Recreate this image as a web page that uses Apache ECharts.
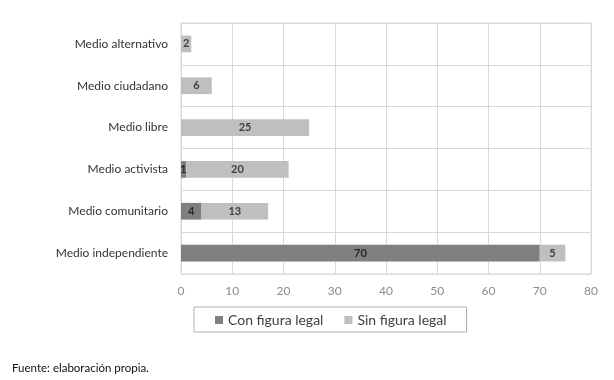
<!DOCTYPE html>
<html>
<head>
<meta charset="utf-8">
<script src="https://cdn.jsdelivr.net/npm/echarts@6/dist/echarts.min.js"></script>
<style>
html,body{margin:0;padding:0;background:#fff;}
#chart{width:614px;height:380px;}
</style>
</head>
<body>
<div id="chart"></div>
<script>
var categories = ["Medio alternativo", "Medio ciudadano", "Medio libre", "Medio activista", "Medio comunitario", "Medio independiente"];
var conFiguraLegal = [0, 0, 0, 1, 4, 70];
var sinFiguraLegal = [2, 6, 25, 20, 13, 5];
var xTicks = [0, 10, 20, 30, 40, 50, 60, 70, 80];
var seriesNames = ["Con figura legal", "Sin figura legal"];
var sourceNote = "Fuente: elaboración propia.";

var FONT = "Lato, 'Open Sans', sans-serif";
var chart = echarts.init(document.getElementById('chart'), null, {renderer: 'canvas'});

function lbl(p) { return p.value ? String(p.value) : ''; }

chart.setOption({
  backgroundColor: '#ffffff',
  animation: false,
  textStyle: {fontFamily: FONT},
  grid: {left: 181, right: 23, top: 23, bottom: 106, containLabel: false,
         show: true, borderColor: '#d9d9d9', borderWidth: 1},
  xAxis: {
    type: 'value',
    min: xTicks[0], max: xTicks[xTicks.length - 1], interval: 10,
    axisLine: {show: false}, axisTick: {show: false},
    splitLine: {show: true, lineStyle: {color: '#d9d9d9', width: 1}},
    axisLabel: {color: '#8c8c8c', fontSize: 12, margin: 11, fontFamily: FONT}
  },
  yAxis: {
    type: 'category',
    data: categories,
    inverse: true,
    axisLine: {show: false}, axisTick: {show: false},
    splitLine: {show: true, lineStyle: {color: '#d9d9d9', width: 1}},
    axisLabel: {color: '#333333', fontSize: 12, margin: 13, fontFamily: FONT}
  },
  legend: {
    data: seriesNames,
    left: 194, top: 307,
    orient: 'horizontal',
    icon: 'rect', itemWidth: 8, itemHeight: 8, itemGap: 21,
    borderColor: '#b0b0b0', borderWidth: 1,
    padding: [6, 20, 5, 21],
    textStyle: {color: '#404040', fontSize: 14, fontFamily: FONT}
  },
  title: {
    text: sourceNote,
    left: 7, top: 357,
    textStyle: {color: '#111', fontSize: 11.5, fontWeight: 'normal', fontFamily: FONT}
  },
  series: [
    {
      name: seriesNames[0], type: 'bar', stack: 'total',
      data: conFiguraLegal, barCategoryGap: '60%',
      itemStyle: {color: '#7f7f7f'},
      label: {show: true, position: 'inside', formatter: lbl, color: '#262626',
              fontSize: 11, fontWeight: 'bold', fontFamily: FONT}
    },
    {
      name: seriesNames[1], type: 'bar', stack: 'total',
      data: sinFiguraLegal, barCategoryGap: '60%',
      itemStyle: {color: '#bfbfbf'},
      label: {show: true, position: 'inside', formatter: lbl, color: '#404040',
              fontSize: 11, fontWeight: 'bold', fontFamily: FONT}
    }
  ]
});
</script>
</body>
</html>
